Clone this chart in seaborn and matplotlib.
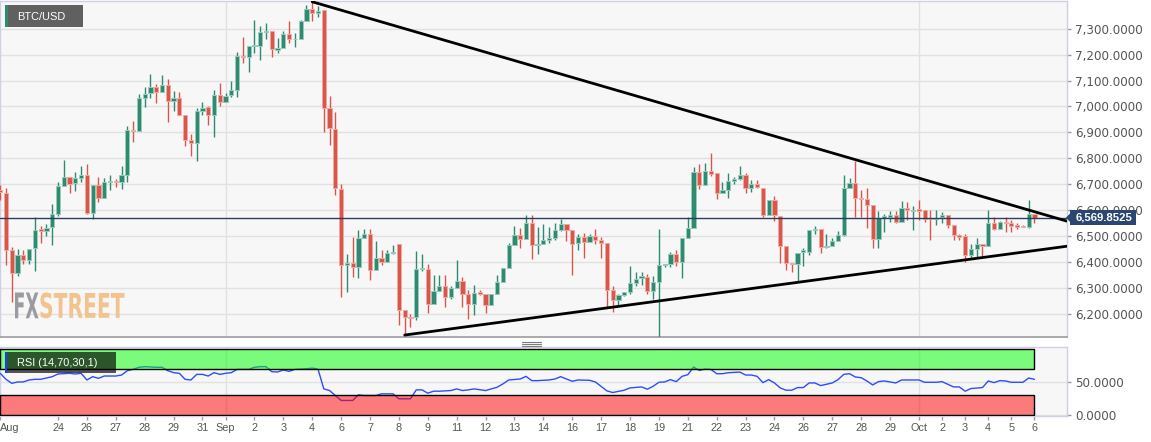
import numpy as np
import pandas as pd
import matplotlib
matplotlib.use("Agg")
import matplotlib.pyplot as plt
import seaborn as sns
from matplotlib.patches import Rectangle, Polygon, PathPatch
from matplotlib.lines import Line2D
from matplotlib.textpath import TextPath
from matplotlib.font_manager import FontProperties
from matplotlib.transforms import Affine2D, blended_transform_factory

# 6h candles, BTC/USD, from 2018-08-22 06:00
start = pd.Timestamp("2018-08-22 06:00")

opens = [6676, 6667, 6444, 6358, 6425, 6406, 6455, 6526, 6517, 6535,
         6586, 6693, 6727, 6703, 6724, 6734, 6589, 6698, 6647, 6707,
         6711, 6707, 6737, 6908, 6904, 7032, 7051, 7075, 7056, 7084,
         7022, 7031, 6966, 6870, 6859, 6983, 6996, 6965, 7044, 7018,
         7043, 7062, 7194, 7192, 7233, 7233, 7287, 7292, 7219, 7224,
         7279, 7259, 7260, 7330, 7375, 7362, 7372, 6992, 6912, 6680,
         6389, 6397, 6380, 6493, 6509, 6370, 6415, 6399, 6434, 6470,
         6212, 6187, 6187, 6373, 6373, 6238, 6287, 6305, 6264, 6300,
         6325, 6274, 6238, 6283, 6274, 6234, 6274, 6322, 6377, 6466,
         6502, 6489, 6550, 6464, 6468, 6484, 6493, 6522, 6546, 6522,
         6473, 6495, 6477, 6499, 6483, 6473, 6290, 6254, 6271, 6283,
         6319, 6337, 6341, 6286, 6322, 6388, 6390, 6429, 6399, 6493,
         6532, 6745, 6698, 6751, 6741, 6664, 6676, 6712, 6718, 6737,
         6686, 6702, 6683, 6580, 6638, 6577, 6460, 6396, 6391, 6437,
         6438, 6522, 6526, 6457, 6461, 6479, 6503, 6683, 6706, 6647,
         6642, 6619, 6487, 6570, 6574, 6580, 6554, 6606, 6595, 6602,
         6599, 6567, 6564, 6573, 6580, 6541, 6503, 6499, 6428, 6451,
         6467, 6461, 6550, 6528, 6554, 6550, 6541, 6539, 6535, 6586]
highs = [6696, 6685, 6457, 6451, 6447, 6451, 6571, 6537, 6545, 6625,
         6709, 6792, 6727, 6747, 6769, 6776, 6698, 6728, 6724, 6734,
         6719, 6769, 6925, 6944, 7047, 7073, 7127, 7086, 7120, 7104,
         7060, 7056, 6966, 6893, 6992, 7018, 7001, 7063, 7089, 7050,
         7098, 7211, 7269, 7233, 7334, 7310, 7323, 7292, 7263, 7292,
         7331, 7282, 7332, 7391, 7404, 7388, 7372, 7041, 6979, 6702,
         6431, 6496, 6524, 6528, 6528, 6480, 6447, 6444, 6464, 6470,
         6212, 6200, 6442, 6431, 6393, 6348, 6348, 6348, 6305, 6406,
         6341, 6292, 6312, 6292, 6277, 6277, 6348, 6377, 6473, 6537,
         6531, 6582, 6582, 6535, 6544, 6535, 6548, 6567, 6546, 6522,
         6509, 6511, 6509, 6528, 6496, 6473, 6307, 6277, 6283, 6385,
         6361, 6361, 6354, 6344, 6526, 6391, 6438, 6447, 6493, 6573,
         6767, 6776, 6780, 6821, 6741, 6709, 6741, 6728, 6769, 6741,
         6715, 6715, 6683, 6638, 6655, 6577, 6460, 6396, 6434, 6454,
         6524, 6537, 6526, 6509, 6490, 6519, 6735, 6722, 6789, 6677,
         6685, 6619, 6595, 6586, 6595, 6595, 6635, 6631, 6615, 6638,
         6599, 6599, 6599, 6593, 6580, 6541, 6509, 6509, 6467, 6490,
         6470, 6599, 6573, 6557, 6573, 6560, 6550, 6541, 6640, 6586]
lows = [6638, 6389, 6245, 6344, 6393, 6390, 6364, 6474, 6501, 6466,
        6577, 6693, 6666, 6674, 6708, 6586, 6565, 6631, 6647, 6676,
        6687, 6680, 6709, 6863, 6904, 6998, 7031, 7015, 7056, 6941,
        6982, 6966, 6848, 6809, 6791, 6966, 6930, 6883, 7002, 7018,
        7037, 7035, 7166, 7134, 7205, 7181, 7260, 7189, 7205, 7224,
        7243, 7228, 7260, 7330, 7330, 7346, 6902, 6850, 6659, 6264,
        6283, 6341, 6339, 6493, 6331, 6370, 6386, 6399, 6430, 6154,
        6116, 6148, 6176, 6363, 6202, 6238, 6287, 6225, 6258, 6300,
        6225, 6178, 6193, 6273, 6203, 6234, 6274, 6322, 6377, 6466,
        6455, 6489, 6410, 6429, 6468, 6473, 6483, 6518, 6479, 6350,
        6444, 6415, 6477, 6470, 6415, 6225, 6206, 6228, 6268, 6277,
        6307, 6309, 6277, 6258, 6100, 6380, 6380, 6383, 6339, 6493,
        6532, 6680, 6696, 6731, 6642, 6664, 6648, 6702, 6715, 6664,
        6670, 6683, 6571, 6580, 6558, 6396, 6367, 6361, 6326, 6383,
        6425, 6509, 6432, 6455, 6461, 6479, 6500, 6683, 6573, 6573,
        6532, 6455, 6455, 6515, 6554, 6550, 6554, 6561, 6522, 6561,
        6554, 6486, 6541, 6548, 6532, 6486, 6486, 6400, 6412, 6419,
        6419, 6461, 6522, 6528, 6515, 6515, 6528, 6535, 6532, 6550]
closes = [6670, 6447, 6358, 6425, 6406, 6451, 6524, 6518, 6532, 6585,
          6692, 6727, 6702, 6724, 6734, 6589, 6698, 6647, 6707, 6711,
          6707, 6737, 6908, 6904, 7032, 7049, 7075, 7056, 7084, 7022,
          7031, 6966, 6870, 6859, 6983, 6992, 6965, 7044, 7018, 7042,
          7062, 7194, 7189, 7233, 7238, 7287, 7292, 7223, 7224, 7279,
          7259, 7262, 7330, 7375, 7362, 7370, 6995, 6915, 6686, 6389,
          6395, 6380, 6493, 6509, 6370, 6415, 6399, 6434, 6436, 6212,
          6187, 6184, 6373, 6377, 6238, 6286, 6305, 6264, 6300, 6325,
          6274, 6238, 6281, 6274, 6234, 6274, 6322, 6377, 6466, 6502,
          6489, 6550, 6466, 6469, 6486, 6493, 6522, 6546, 6522, 6470,
          6495, 6477, 6499, 6483, 6473, 6290, 6254, 6271, 6283, 6319,
          6335, 6344, 6286, 6322, 6388, 6390, 6429, 6399, 6493, 6532,
          6745, 6698, 6751, 6738, 6664, 6676, 6713, 6718, 6737, 6686,
          6702, 6687, 6580, 6638, 6582, 6460, 6396, 6390, 6434, 6447,
          6522, 6526, 6457, 6461, 6479, 6503, 6683, 6706, 6647, 6642,
          6619, 6487, 6570, 6577, 6580, 6554, 6606, 6599, 6601, 6597,
          6567, 6564, 6570, 6580, 6541, 6503, 6496, 6428, 6451, 6467,
          6461, 6550, 6528, 6554, 6548, 6537, 6536, 6535, 6586, 6569.8525]
last_price = 6569.8525

# RSI(14) (candle index, value)
rsi_idx = [0, 1, 2, 3, 4, 5, 6, 7, 9, 10, 12, 13, 14, 15, 16, 17, 18, 20, 21, 22,
           23, 24, 25, 27, 28, 29, 30, 31, 32, 33, 34, 35, 36, 37, 38, 39, 40, 41, 43, 44,
           45, 46, 47, 48, 49, 50, 51, 53, 54, 55, 56, 57, 58, 59, 60, 61, 62, 63, 65, 66,
           68, 69, 71, 72, 73, 74, 75, 76, 78, 79, 80, 81, 82, 84, 86, 87, 88, 90, 91, 92,
           93, 95, 96, 97, 99, 100, 102, 103, 105, 106, 108, 109, 111, 112, 113, 114, 115, 116, 117, 118,
           119, 120, 121, 122, 123, 124, 125, 126, 128, 129, 130, 131, 132, 133, 134, 135, 136, 137, 138, 139,
           140, 141, 142, 144, 145, 146, 147, 148, 149, 150, 151, 152, 153, 155, 156, 157, 159, 160, 162, 163,
           164, 165, 166, 167, 168, 170, 171, 172, 173, 174, 175, 177, 178, 179]
rsi_val = [63.6, 54.5, 48.4, 50.5, 50.5, 53.5, 54.5, 54.5, 58.5, 62.6, 63.6, 62.6, 63.6, 53.5, 58.5, 56, 59.5, 59.5, 61, 67.6,
           69.6, 72.7, 73.7, 72.7, 72.7, 67.6, 64.6, 63.6, 54.5, 53.5, 62, 62, 59.5, 64.6, 62, 63.6, 64.6, 69.6, 69.6, 72.7,
           73.7, 73.7, 66.1, 65.6, 68.6, 66.6, 69.6, 70.5, 71.5, 70, 40, 37.5, 30, 22.5, 22.5, 22.5, 31, 30, 30, 32.5,
           32.5, 25, 25, 38.5, 38.5, 33.5, 36.5, 36.5, 37.5, 40, 37.5, 38.5, 40, 37.5, 42.5, 47.5, 53.5, 55, 59, 52.5,
           52.5, 53.5, 55, 58.5, 51.5, 53.5, 53, 50.5, 37, 34.5, 38, 41.5, 43, 39.5, 44, 50, 50.5, 54, 51, 59,
           61.5, 73, 68, 70, 69.5, 63, 63, 64.5, 65.5, 61, 61, 59, 49.5, 54, 49, 41.5, 38, 38, 42, 42,
           49, 49, 45, 49, 54, 62, 63, 58, 57, 52, 46, 51, 52, 49, 53.5, 53.5, 53.5, 50, 50, 51,
           47, 43, 43, 36.5, 40.5, 42, 52, 49.5, 52.5, 52, 50, 50, 56.5, 54.5]

tick_dates = ["2018-08-22 06:00", "2018-08-24 18:00", "2018-08-26 00:00", "2018-08-27 06:00",
              "2018-08-28 12:00", "2018-08-29 18:00", "2018-08-31 00:00", "2018-09-01 00:00",
              "2018-09-02 06:00", "2018-09-03 12:00", "2018-09-04 18:00", "2018-09-06 00:00",
              "2018-09-07 06:00", "2018-09-08 12:00", "2018-09-09 18:00", "2018-09-11 00:00",
              "2018-09-12 06:00", "2018-09-13 12:00", "2018-09-14 18:00", "2018-09-16 00:00",
              "2018-09-17 06:00", "2018-09-18 12:00", "2018-09-19 18:00", "2018-09-21 00:00",
              "2018-09-22 06:00", "2018-09-23 12:00", "2018-09-24 18:00", "2018-09-26 00:00",
              "2018-09-27 06:00", "2018-09-28 12:00", "2018-09-29 18:00", "2018-10-01 00:00",
              "2018-10-02 00:00", "2018-10-03 00:00", "2018-10-04 00:00", "2018-10-05 00:00",
              "2018-10-06 00:00"]
tick_labels = ["Aug", "24", "26", "27", "28", "29", "31", "Sep", "2", "3", "4", "6", "7", "8", "9",
               "11", "12", "13", "14", "16", "17", "18", "19", "21", "22", "23", "24", "26", "27",
               "28", "29", "Oct", "2", "3", "4", "5", "6"]
month_starts = ["2018-09-01 00:00", "2018-10-01 00:00"]

# triangle trendlines (candle index, price)
upper_x = [54, 184.6]
upper_y = [7404, 6557]
lower_x = [70, 184.6]
lower_y = [6117, 6460]

price_ticks = list(range(6200, 7301, 100))

sns.set_style("white")
plt.rcParams['font.family'] = ['Liberation Sans', 'DejaVu Sans']

W, H = 1151, 442
fig = plt.figure(figsize=(W / 100, H / 100), dpi=100, facecolor='white')

def fx(x):
    return x / W

def fy(y):
    return 1 - y / H

ax = fig.add_axes([0, fy(337), fx(1067), (337 - 1) / H])
ax2 = fig.add_axes([0, fy(416), fx(1067), (416 - 347.3) / H])

df = pd.DataFrame({'open': opens, 'high': highs, 'low': lows, 'close': closes})
df['i'] = np.arange(len(df))
up = df['close'] >= df['open']
GREEN, RED = '#2f8a70', '#d9574a'
body_col = np.where(up, GREEN, RED)
edge_col = np.where(up, '#97cbbb', '#eeaaa2')

ax.set_facecolor('#f7f7f7')
ax.vlines(df['i'], df['low'], df['high'], colors=body_col, lw=1.0, zorder=3)
body_h = np.maximum((df['close'] - df['open']).abs(), 3)
body_b = np.minimum(df['close'], df['open'])
ax.bar(df['i'], body_h, bottom=body_b, width=0.72, color=body_col,
       edgecolor=edge_col, linewidth=0.7, zorder=4)

ax.set_xlim(-0.04, 184.63)
ax.set_ylim(6109.5, 7407)

ticks_pos = ((pd.to_datetime(tick_dates) - start) / pd.Timedelta('6h')).values
month_pos = ((pd.to_datetime(month_starts) - start) / pd.Timedelta('6h')).values

for a in (ax, ax2):
    for m in month_pos:
        a.axvline(m, color='#e1e1e1', lw=1, zorder=0.5)

ax.yaxis.tick_right()
ax.set_yticks(price_ticks)
ax.set_yticklabels([f"{v:,.4f}" for v in price_ticks], family='DejaVu Sans')
ax.set_xticks([])
ax.grid(axis='y', color='#e1e1e1', lw=1)
ax.tick_params(axis='y', right=True, length=3, width=1, color='#9a9a9a',
               labelsize=8.6, labelcolor='#555555', pad=3)
for s in ('top', 'right', 'left'):
    ax.spines[s].set_color('#cdd1e3')
    ax.spines[s].set_linewidth(1)
ax.spines['bottom'].set_color('#a3a3a3')
ax.spines['bottom'].set_linewidth(1.3)

ax.axhline(last_price, color='#2d3d60', lw=1, zorder=5)

sns.lineplot(x=upper_x, y=upper_y, ax=ax, color='black', lw=2, zorder=6, legend=False)
sns.lineplot(x=lower_x, y=lower_y, ax=ax, color='black', lw=2, zorder=6, legend=False)

# RSI panel
ax2.set_facecolor('#f7f7f7')
sns.lineplot(x=rsi_idx, y=rsi_val, ax=ax2, color='#2b4dff', lw=1, zorder=3, legend=False)
n = len(df) - 1
ax2.add_patch(Rectangle((0, 70), n, 30, facecolor=(0, 1, 0, 0.5), edgecolor='black', lw=1, zorder=4))
ax2.add_patch(Rectangle((0, 0), n, 30, facecolor=(1, 0, 0, 0.5), edgecolor='black', lw=1, zorder=4))
ax2.set_xlim(-0.04, 184.63)
ax2.set_ylim(-1.06, 103)
ax2.yaxis.tick_right()
ax2.set_yticks([0, 50])
ax2.set_yticklabels(["0.0000", "50.0000"], family='DejaVu Sans')
ax2.grid(axis='y', color='#e1e1e1', lw=1)
ax2.tick_params(axis='y', right=True, length=3, width=1, color='#9a9a9a',
                labelsize=8.6, labelcolor='#555555', pad=3)
ax2.set_xticks(ticks_pos)
ax2.set_xticklabels(tick_labels)
ax2.tick_params(axis='x', bottom=True, length=3, width=1, color='#9a9a9a',
                labelsize=7.8, labelcolor='#555555', pad=2)
ax2.get_xticklabels()[0].set_ha('left')
ax2.set_xlabel('')
ax2.set_ylabel('')
ax.set_xlabel('')
ax.set_ylabel('')
for s in ('top', 'right', 'bottom', 'left'):
    ax2.spines[s].set_color('#cdd1e3')
    ax2.spines[s].set_linewidth(1)

# price box on the right axis
fig.add_artist(Rectangle((fx(1070), fy(225.5)), fx(1136) - fx(1070), (225.5 - 210) / H,
                         transform=fig.transFigure, facecolor='#2b4670', edgecolor='none'))
fig.add_artist(Polygon([(fx(1066), fy(217.7)), (fx(1070.5), fy(213)), (fx(1070.5), fy(222.5))],
                       closed=True, transform=fig.transFigure, facecolor='#2b4670', edgecolor='none'))
fig.text(fx(1104), fy(217.9), f"{last_price:,.4f}", color='white', fontsize=8.2,
         fontweight='bold', ha='center', va='center')

# legend boxes
fig.add_artist(Rectangle((fx(5), fy(27)), fx(83) - fx(5), 22 / H, transform=fig.transFigure,
                         facecolor='black', alpha=0.61, edgecolor='none'))
fig.add_artist(Rectangle((fx(5), fy(27)), fx(8) - fx(5), 22 / H, transform=fig.transFigure,
                         facecolor=GREEN, edgecolor='none'))
fig.text(fx(17), fy(16.5), "BTC/USD", color='white', fontsize=7.9, va='center', ha='left')

fig.add_artist(Rectangle((fx(5), fy(373.3)), fx(116) - fx(5), 21 / H, transform=fig.transFigure,
                         facecolor='black', alpha=0.66, edgecolor='none'))
fig.add_artist(Rectangle((fx(5), fy(373.3)), fx(7.5) - fx(5), 21 / H, transform=fig.transFigure,
                         facecolor='#1a3cff', edgecolor='none'))
fig.text(fx(17.3), fy(363), "RSI (14,70,30,1)", color='white', fontsize=7.9, va='center', ha='left')

# panel resize handle
for yy in (342.3, 344, 345.7):
    fig.add_artist(Line2D([fx(522), fx(541)], [fy(yy), fy(yy)], transform=fig.transFigure,
                          color='#7a7a7a', lw=0.8))

# FXSTREET watermark
fp = FontProperties(family='DejaVu Sans', weight='bold')

def word(s, x0, x1, y_top, y_bot, color):
    tp = TextPath((0, 0), s, prop=fp, size=1)
    ext = tp.get_extents()
    sx = (x1 - x0) / ext.width
    sy = (y_bot - y_top) / ext.height
    tr = (Affine2D().translate(-ext.x0, -ext.y0).scale(sx / W, sy / H)
          .translate(fx(x0), fy(y_bot)) + fig.transFigure)
    fig.add_artist(PathPatch(tp, transform=tr, facecolor=color, edgecolor='none'))

word("FX", 15, 38.5, 292.5, 318.3, '#9a9ba0')
word("STREET", 40.5, 124.5, 292.5, 318.3, '#f1c48f')

fig.savefig("out.png", dpi=100, facecolor='white')
